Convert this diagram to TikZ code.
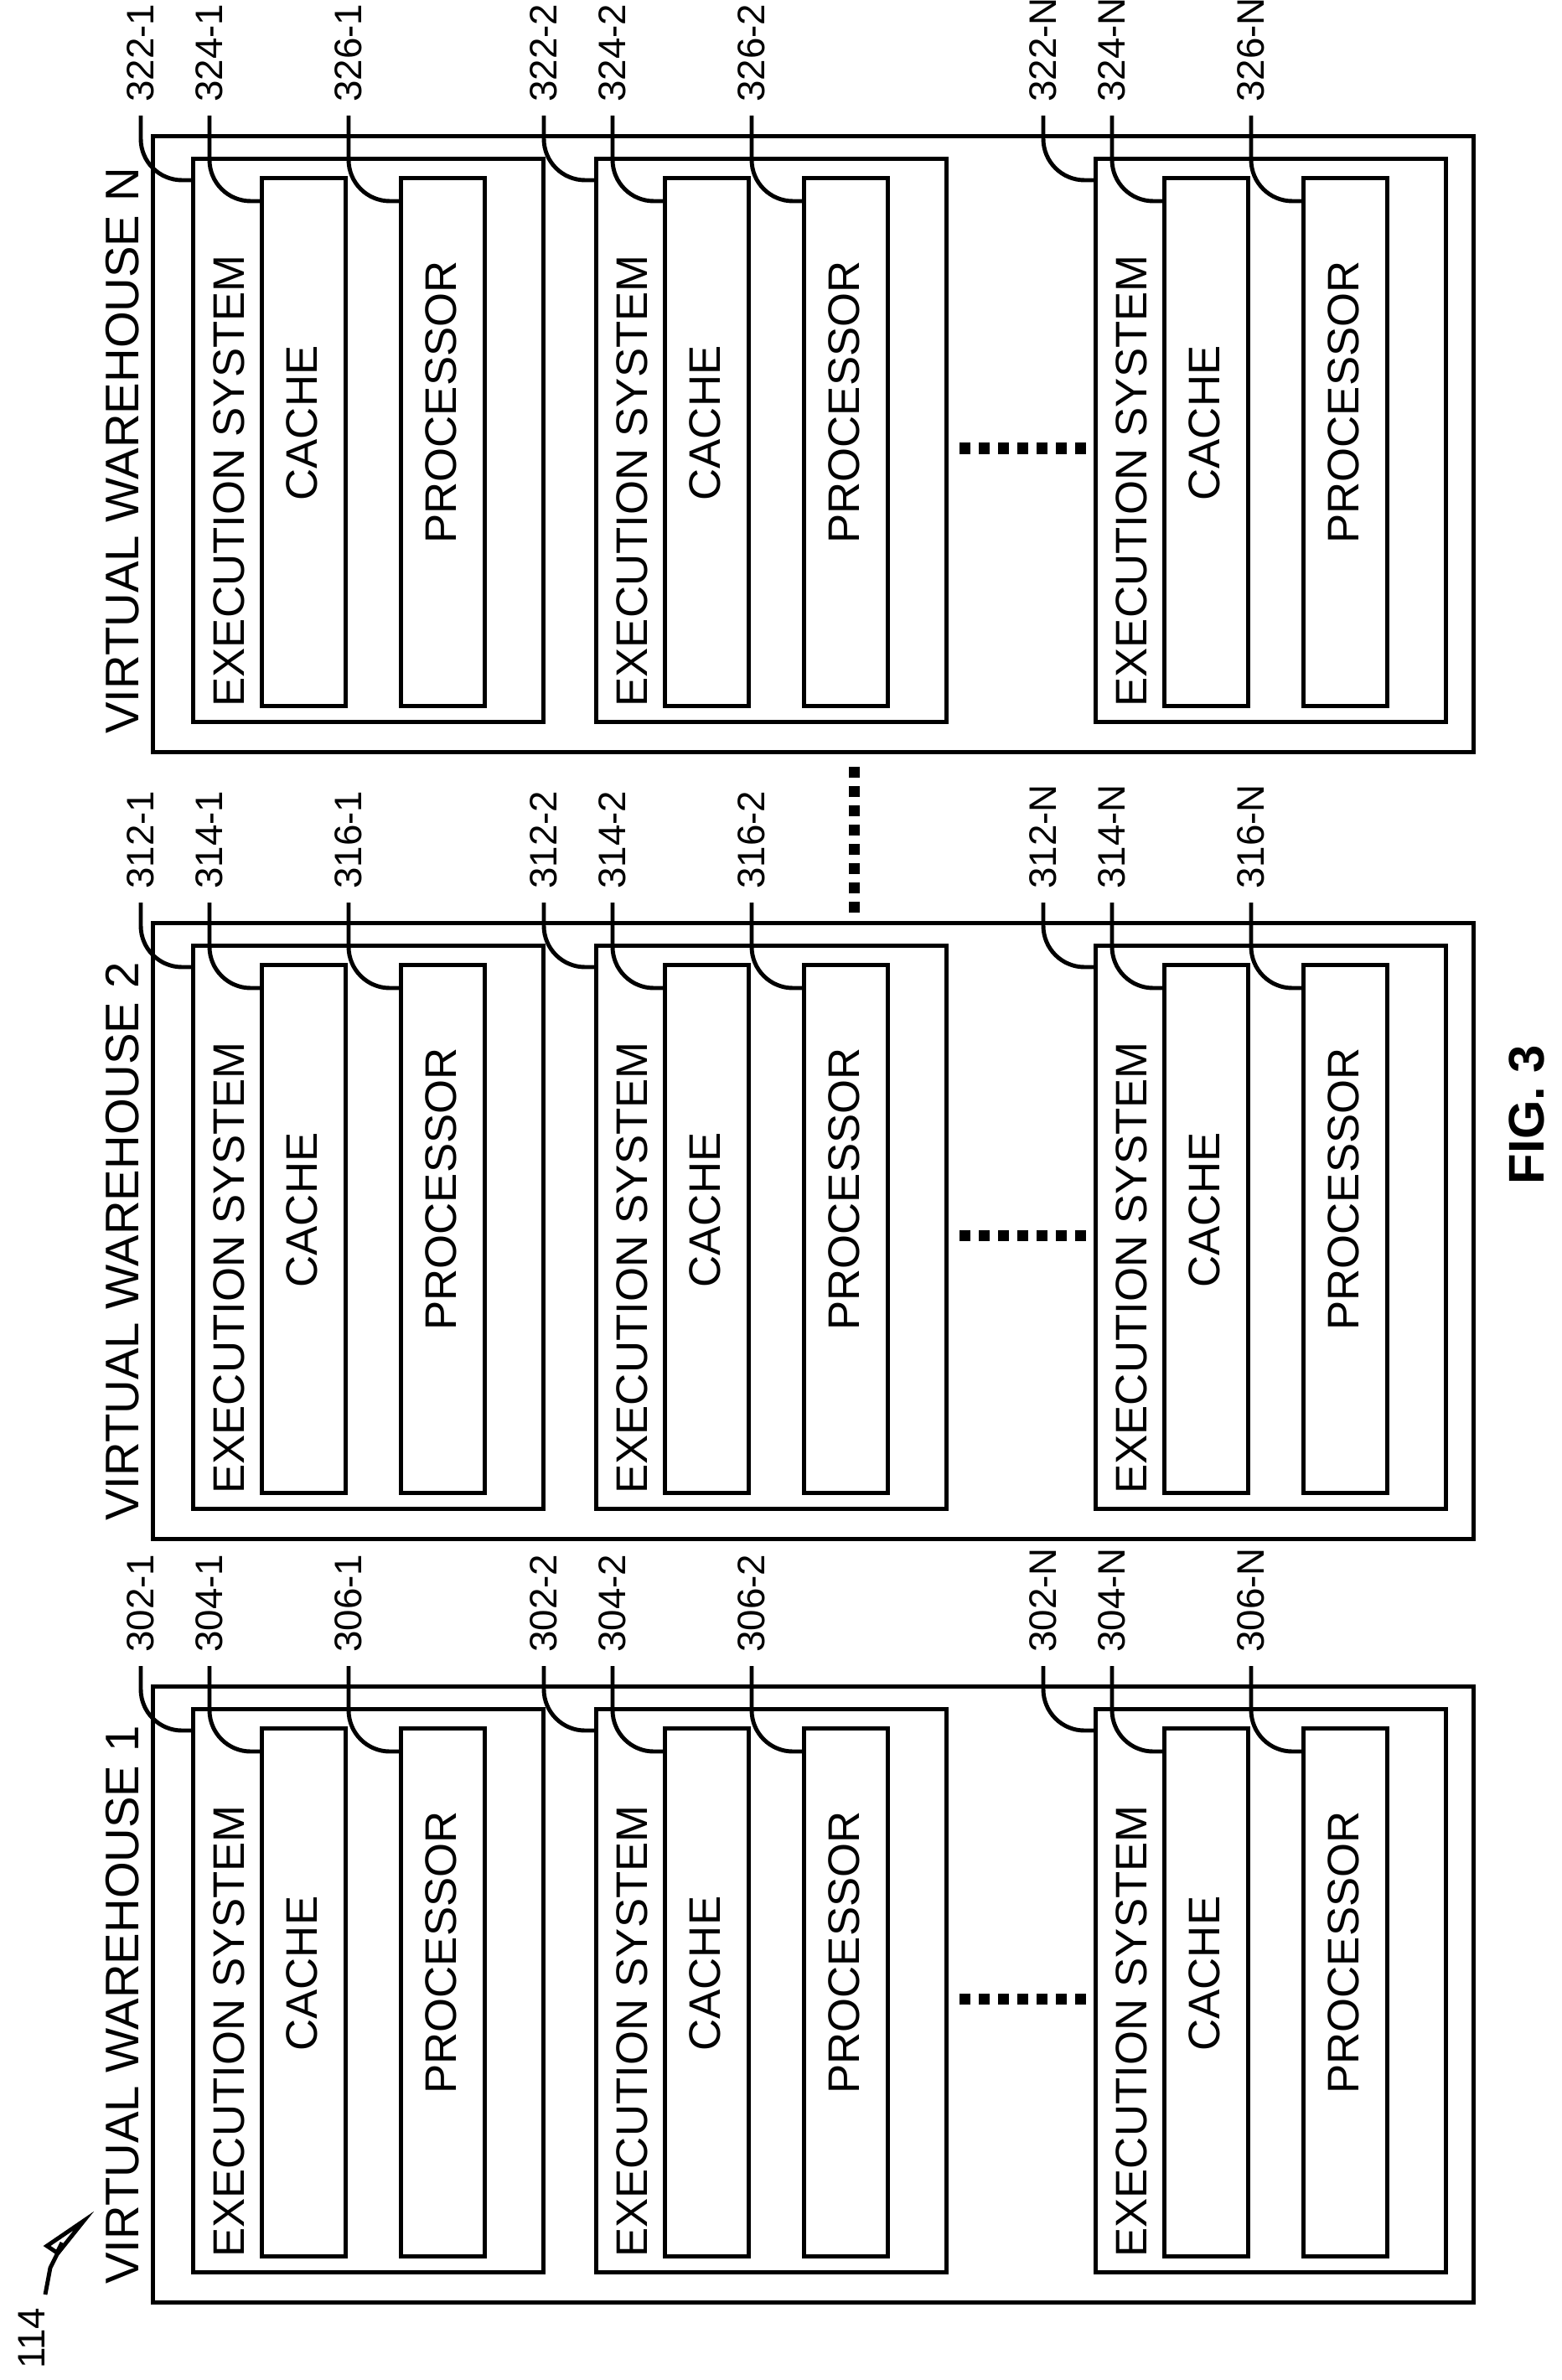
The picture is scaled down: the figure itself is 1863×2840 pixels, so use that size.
\documentclass[tikz,border=0pt]{standalone}
\usepackage{fontspec}
\setmainfont{Liberation Sans}
\begin{document}
\begin{tikzpicture}[x=0.01cm, y=-0.01cm, line width=1.4pt,
    box/.style={draw, line width=1.4pt},
    txt/.style={rotate=90, font=\fontsize{15}{15}\selectfont, inner sep=0pt},
    ref/.style={rotate=90, anchor=west, font=\fontsize{13}{13}\selectfont, inner sep=0pt},
    lead/.style={line width=1.4pt, rounded corners=14pt},
    dots/.style={line width=0.13cm, dash pattern=on 0.13cm off 0.1cm}]
    % page
    \useasboundingbox (0,0) rectangle (1863,2840);
    % warehouses
    \foreach \wy/\wn/\wa in {2010/1/30, 1099/2/31, 160/N/32} {
        \node[box, minimum width=15.75cm, minimum height=7.35cm, anchor=north west] (wh\wn) at (180,\wy) {};
        \node[txt, anchor=west, font=\fontsize{16}{16}\selectfont] (whl\wn) at (146,\wy+718) {VIRTUAL WAREHOUSE \wn};
        \foreach \ex/\en in {228/1, 709/2, 1305/N} {
            \node[box, minimum width=4.18cm, minimum height=6.72cm, anchor=north west] (es\wn\en) at (\ex,\wy+27) {};
            \node[box, minimum width=1.0cm, minimum height=6.3cm, anchor=north west] (ca\wn\en) at (\ex+82,\wy+50) {};
            \node[box, minimum width=1.0cm, minimum height=6.3cm, anchor=north west] (pr\wn\en) at (\ex+248,\wy+50) {};
            \node[txt, anchor=west] (esl\wn\en) at (\ex+45,\wy+686) {EXECUTION SYSTEM};
            \node[txt] (cal\wn\en) at (\ex+132,\wy+345) {CACHE};
            \node[txt] (prl\wn\en) at (\ex+298,\wy+320) {PROCESSOR};
            % reference labels
            \node[ref] (r\wn\en a) at (\ex-60,\wy-36) {\wa2-\en};
            \node[ref] (r\wn\en b) at (\ex+22,\wy-36) {\wa4-\en};
            \node[ref] (r\wn\en c) at (\ex+188,\wy-36) {\wa6-\en};
            \draw[lead] (r\wn\en a.west) ++(0,14) |- (es\wn\en.north west |- 0,\wy+55);
            \draw[lead] (r\wn\en b.west) ++(0,14) |- (ca\wn\en.north west |- 0,\wy+80);
            \draw[lead] (r\wn\en c.west) ++(0,14) |- (pr\wn\en.north west |- 0,\wy+80);
        }
        \coordinate (d\wn a) at (1145,\wy+375);
        \coordinate (d\wn b) at (1300,\wy+375);
        \draw[dots] (d\wn a) -- (d\wn b);
    }
    % between warehouses
    \coordinate (va) at (1019,915);
    \coordinate (vb) at (1019,1095);
    \draw[dots] (va) -- (vb);
    % figure label
    \node[rotate=90, font=\bfseries\fontsize{17}{17}\selectfont] (fig) at (1822,1330) {FIG. 3};
    % 114 pointer
    \node[rotate=90, font=\fontsize{13}{13}\selectfont, inner sep=0pt] (n114) at (38,2790) {114};
    \coordinate (p1) at (54,2738);
    \coordinate (p2) at (100,2650);
    \draw[line width=1.4pt] (p1) -- (60,2706) -- (68,2690) -- (p2) -- (56,2680) -- (68,2688) -- (74,2676);
\end{tikzpicture}
\end{document}
